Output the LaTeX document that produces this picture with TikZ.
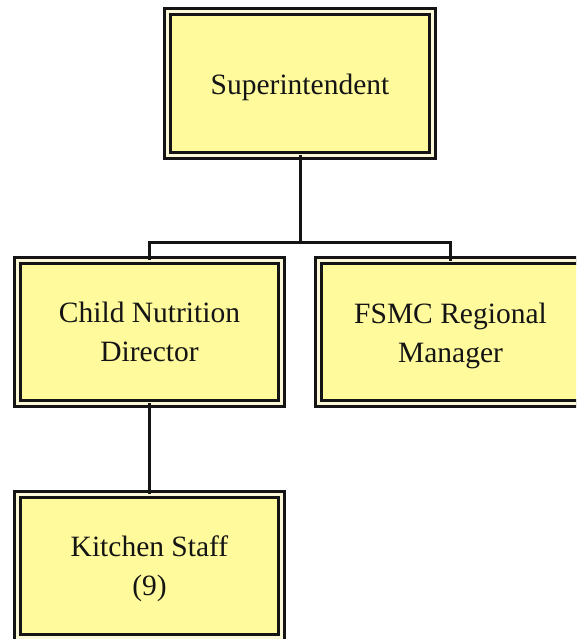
\documentclass[tikz,border=0pt]{standalone}
\usepackage{fontspec}
\setmainfont{Liberation Serif}
\definecolor{boxfill}{RGB}{255,250,155}
\definecolor{boxgap}{RGB}{250,247,215}
\definecolor{ink}{RGB}{20,20,20}
% first-line strut, a little taller so the text sits slightly low in its box
\newcommand\headstrut{\rule{0pt}{33.3pt}}
\tikzset{
  orgbox/.style={draw=ink, line width=3pt, double=boxgap, double distance=3pt,
    fill=boxfill, minimum width=264pt, minimum height=143pt, inner sep=0pt,
    outer sep=0pt, align=center, text=ink,
    font=\fontsize{29.5}{39}\selectfont},
  link/.style={draw=ink, line width=3pt}
}
\begin{document}
\begin{tikzpicture}[x=1pt,y=-1pt]
  \useasboundingbox (0,0) rectangle (576,639);
  \clip (0,0) rectangle (576,639);
  \fill[white] (0,0) rectangle (576,639);

  \node[orgbox, minimum width=265pt, minimum height=144pt] (sup) at (300,83.5) {\headstrut Superintendent\strut};
  \node[orgbox] (cnd) at (149.5,331.5) {\headstrut Child Nutrition\strut\\Director\strut};
  \node[orgbox] (fsmc) at (450.5,332) {\headstrut FSMC Regional\strut\\Manager\strut};
  \node[orgbox] (kit) at (149.5,565.5) {\headstrut Kitchen Staff\strut\\(9)\strut};

  \coordinate (bus) at (300,242);
  \draw[link] (sup.south) -- (bus);
  \draw[link] (cnd.north) |- (bus) -| (fsmc.north);
  \draw[link] (cnd.south) -- (kit.north);
\end{tikzpicture}
\end{document}
